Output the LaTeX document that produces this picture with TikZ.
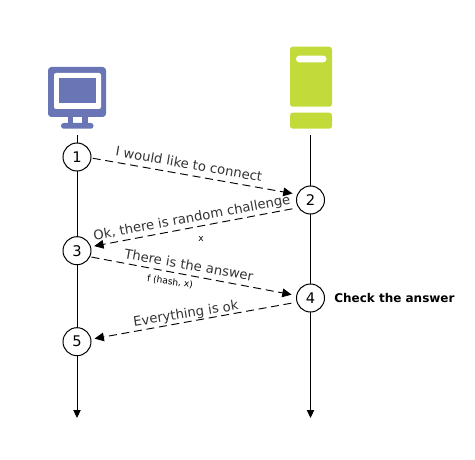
\documentclass[tikz,border=0pt]{standalone}
\usepackage{fontspec}
\setmainfont{DejaVu Sans}
\usetikzlibrary{arrows.meta}
\definecolor{monitorblue}{HTML}{6A75B5}
\definecolor{servergreen}{HTML}{C3DB3A}
\definecolor{labelgray}{HTML}{333333}
\tikzset{
  stepcircle/.style={circle,draw=black,fill=white,line width=0.75pt,minimum size=21pt,inner sep=0pt,font=\fontsize{11pt}{13pt}\selectfont},
  msg/.style={draw=black,line width=0.7pt,dash pattern=on 6pt off 3.5pt,-{Triangle[length=7pt,width=6.5pt]}},
  life/.style={draw=black,line width=0.75pt,-{Triangle[length=6pt,width=5.5pt]}},
  msglabel/.style={text=labelgray,font=\fontsize{9.9pt}{12pt}\selectfont,inner sep=0pt},
  smalllabel/.style={text=black,font=\fontsize{6.8pt}{8pt}\selectfont,inner sep=0pt},
}
\begin{document}
\begin{tikzpicture}[x=0.75pt,y=-0.75pt]
\useasboundingbox (0,0) rectangle (475,460);
% monitor
\fill[monitorblue,rounded corners=2.5pt] (48,67) rectangle (106,117);
\fill[white,rounded corners=1.5pt] (54,73) rectangle (101,109);
\fill[monitorblue] (59,78.5) rectangle (96,103);
\fill[monitorblue] (68,117) rectangle (88,123);
\fill[white] (73.3,117) rectangle (81.7,123);
\fill[monitorblue,rounded corners=2pt] (61,123) rectangle (93.5,128.7);
% server
\fill[servergreen,rounded corners=2pt] (290,46.7) rectangle (332,106.7);
\fill[servergreen,rounded corners=2pt] (290,112.7) rectangle (332,128.7);
\fill[white,rounded corners=2.4pt] (296,55.7) rectangle (326.5,62.3);
% lifelines
\coordinate (ctop) at (77,135);
\coordinate (cend) at (77,418);
\coordinate (stop) at (310.5,135);
\coordinate (send) at (310.5,418);
\draw[life] (ctop) -- (cend);
\draw[life] (stop) -- (send);
% steps
\node[stepcircle] (c1) at (77,157) {1};
\node[stepcircle] (c2) at (310.5,200) {2};
\node[stepcircle] (c3) at (77,250.7) {3};
\node[stepcircle] (c4) at (310.5,298) {4};
\node[stepcircle] (c5) at (77,341.7) {5};
% messages
\draw[msg,shorten <=1pt,shorten >=3.5pt] (c1.-4) -- (c2.157);
\draw[msg,shorten <=4.5pt,shorten >=2.5pt] (c2.212) -- (c3.16);
\draw[msg,shorten <=1pt,shorten >=3.5pt] (c3.-25) -- (c4.170);
\draw[msg,shorten <=4pt,shorten >=2.5pt] (c4.197) -- (c5.10);
% labels
\node[msglabel,rotate=-10] (l1) at (189,164) {I would like to connect};
\node[msglabel,rotate=10.5] (l2) at (192,218.5) {Ok, there is random challenge};
\node[smalllabel] (l3) at (201,239) {x};
\node[msglabel,rotate=-10] (l4) at (189,265) {There is the answer};
\node[smalllabel,rotate=-8] (l5) at (170,282) {f (hash, x)};
\node[msglabel,rotate=9] (l6) at (186,314.5) {Everything is ok};
\node[anchor=west,inner sep=0pt,text=black,font=\fontsize{9pt}{11pt}\selectfont\bfseries] (l7) at (334,298) {Check the answer};
\end{tikzpicture}
\end{document}
